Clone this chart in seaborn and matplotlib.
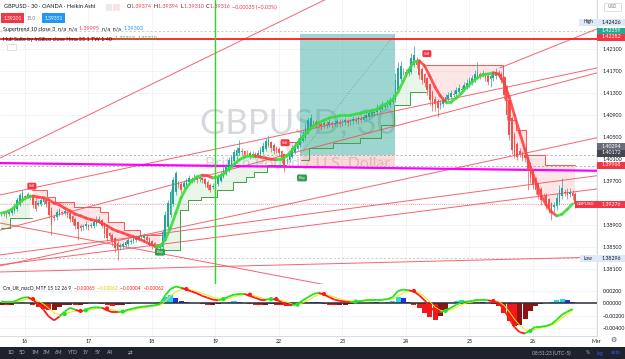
import numpy as np
import matplotlib
matplotlib.use("Agg")
import matplotlib.pyplot as plt
import seaborn as sns
from matplotlib.collections import LineCollection
from matplotlib.patches import Rectangle
from matplotlib.transforms import IdentityTransform

sns.set_theme(style="white")
plt.rcParams["font.family"] = ["Lato", "DejaVu Sans"]

# ---------------- data (hourly Heikin-Ashi bars, t = hours from start of the 16th) ----------------
hours = list(range(-9, 209))
ha_close = [
    1.3909, 1.3911, 1.3908, 1.3913, 1.3917, 1.3924, 1.3935, 1.3944, 1.3948, 1.3940,
    1.3946, 1.3939, 1.3926, 1.3919, 1.3929, 1.3935, 1.3937, 1.3928, 1.3908, 1.3889,
    1.3902, 1.3913, 1.3917, 1.3911, 1.3915, 1.3908, 1.3900, 1.3895, 1.3888, 1.3882,
    1.3884, 1.3888, 1.3891, 1.3886, 1.3889, 1.3895, 1.3899, 1.3900, 1.3888, 1.3873,
    1.3866, 1.3869, 1.3858, 1.3848, 1.3844, 1.3853, 1.3855, 1.3858, 1.3862, 1.3860,
    1.3864, 1.3866, 1.3868, 1.3866, 1.3869, 1.3862, 1.3857, 1.3851, 1.3848, 1.3844,
    1.3851, 1.3877, 1.3908, 1.3929, 1.3949, 1.3971, 1.3984, 1.3962, 1.3953, 1.3966,
    1.3971, 1.3975, 1.3973, 1.3977, 1.3971, 1.3975, 1.3971, 1.3964, 1.3957, 1.3953,
    1.3960, 1.3968, 1.3977, 1.3982, 1.3989, 1.3997, 1.4008, 1.4013, 1.4022, 1.4026,
    1.4029, 1.4022, 1.4017, 1.4020, 1.4015, 1.4019, 1.4015, 1.4020, 1.4026, 1.4033,
    1.4042, 1.4044, 1.4029, 1.4024, 1.4026, 1.4020, 1.4011, 1.3997, 1.4008, 1.4020,
    1.4029, 1.4035, 1.4042, 1.4048, 1.4053, 1.4066, 1.4080, 1.4084, 1.4077, 1.4071,
    1.4073, 1.4069, 1.4075, 1.4071, 1.4077, 1.4073, 1.4075, 1.4079, 1.4073, 1.4077,
    1.4080, 1.4075, 1.4079, 1.4082, 1.4079, 1.4084, 1.4080, 1.4086, 1.4089, 1.4093,
    1.4097, 1.4095, 1.4102, 1.4104, 1.4108, 1.4106, 1.4111, 1.4117, 1.4120, 1.4153,
    1.4175, 1.4179, 1.4168, 1.4164, 1.4171, 1.4193, 1.4199, 1.4180, 1.4162, 1.4153,
    1.4148, 1.4135, 1.4117, 1.4106, 1.4109, 1.4102, 1.4111, 1.4117, 1.4122, 1.4126,
    1.4129, 1.4128, 1.4135, 1.4139, 1.4137, 1.4144, 1.4148, 1.4153, 1.4157, 1.4164,
    1.4168, 1.4160, 1.4166, 1.4157, 1.4149, 1.4160, 1.4164, 1.4168, 1.4162, 1.4153,
    1.4126, 1.4089, 1.4053, 1.4026, 1.4017, 1.4013, 1.4019, 1.4011, 1.4011, 1.3989,
    1.3975, 1.3962, 1.3953, 1.3944, 1.3935, 1.3944, 1.3929, 1.3920, 1.3917, 1.3926,
    1.3939, 1.3953, 1.3957, 1.3948, 1.3944, 1.3949, 1.3942, 1.39276,
]
wick_up_pips = [
    3, 4, 3, 5, 4, 6, 5, 4, 5, 3,   4, 3, 3, 4, 5, 3, 4, 3, 2, 3,
    4, 5, 4, 3, 4, 3, 2, 3, 3, 2,   3, 4, 5, 3, 4, 5, 6, 5, 3, 2,
    3, 2, 3, 2, 3, 4, 4, 5, 3, 4,   4, 5, 4, 6, 5, 3, 3, 2, 3, 2,
    4, 6, 7, 6, 5, 6, 4, 3, 4, 5,   4, 5, 4, 5, 4, 3, 3, 2, 3, 4,
    5, 6, 5, 5, 6, 4, 5, 4, 6, 5,   15, 4, 3, 5, 4, 5, 4, 5, 6, 7,
    5, 9, 3, 4, 4, 3, 2, 3, 4, 5,   5, 6, 5, 6, 7, 8, 6, 7, 4, 3,
    4, 5, 4, 5, 6, 4, 5, 4, 6, 5,   4, 5, 4, 6, 5, 4, 6, 5, 4, 5,
    6, 5, 7, 5, 6, 5, 7, 6, 8, 12,  10, 8, 6, 5, 8, 10, 16, 5, 3, 3,
    3, 2, 3, 4, 5, 4, 5, 6, 5, 6,   5, 6, 5, 6, 5, 6, 7, 6, 5, 8,
    18, 5, 6, 4, 5, 6, 5, 7, 6, 4,  3, 2, 2, 4, 3, 5, 4, 3, 4, 2,
    2, 3, 2, 3, 4, 3, 4, 2, 3, 6,   8, 9, 18, 6, 7, 8, 6, 4,
]
wick_dn_pips = [
    4, 3, 5, 4, 3, 3, 4, 3, 4, 5,   3, 4, 5, 4, 3, 4, 4, 5, 6, 18,
    5, 4, 3, 4, 4, 5, 5, 6, 5, 20,  6, 5, 4, 5, 4, 5, 4, 3, 4, 7,
    6, 5, 6, 7, 18, 6, 5, 5, 4, 4,  3, 4, 3, 4, 3, 4, 5, 6, 5, 6,
    5, 3, 2, 3, 3, 4, 6, 5, 5, 4,   5, 4, 5, 4, 5, 6, 5, 6, 4, 3,
    3, 4, 3, 3, 2, 3, 4, 4, 5, 4,   4, 6, 5, 6, 5, 6, 4, 5, 4, 3,
    3, 3, 6, 6, 5, 6, 8, 11, 6, 4,  3, 3, 2, 3, 2, 3, 2, 4, 5, 6,
    5, 6, 5, 6, 5, 7, 5, 6, 5, 6,   5, 6, 5, 5, 4, 6, 5, 4, 5, 4,
    4, 5, 4, 4, 3, 4, 3, 4, 3, 3,   3, 3, 5, 6, 5, 5, 4, 6, 7, 8,
    8, 9, 10, 9, 12, 16, 8, 5, 4, 3, 4, 3, 4, 3, 4, 3, 4, 3, 4, 3,
    4, 5, 4, 6, 5, 15, 6, 5, 4, 6,  7, 8, 9, 8, 6, 5, 6, 5, 7, 36,
    10, 8, 7, 8, 9, 7, 10, 8, 18, 9, 7, 6, 5, 6, 7, 6, 8, 7,
]

# Supertrend (10, 3) steps: start hour, level, direction (+1 up / -1 down)
st_start = [-9.5, -5.0, 2.6, 8.3, 11.3, 18.9, 28.3, 32.0, 37.8, 43.5, 52.0, 58.6, 61.2, 66.1,
            72.6, 78.6, 83.1, 86.2, 91.8, 98.3, 104.7, 107.7, 116.4, 126.7, 134.2, 139.1, 145.5,
            151.9, 180.5, 181.4, 183.3, 185.6, 189.7, 196.6]
st_level = [1.3884, 1.3902, 1.3953, 1.3940, 1.3931, 1.3922, 1.3913, 1.3895, 1.3880, 1.3871,
            1.3844, 1.3917, 1.3935, 1.3940, 1.3953, 1.3967, 1.3976, 1.3985, 1.3999, 1.4040,
            1.4008, 1.4029, 1.4038, 1.4047, 1.4071, 1.4108, 1.4131, 1.4180, 1.4158, 1.4117,
            1.4080, 1.4062, 1.4017, 1.3999]
st_dir = [1, 1, -1, -1, -1, -1, -1, -1, -1, -1, 1, 1, 1, 1, 1, 1, 1, 1, 1, -1,
          1, 1, 1, 1, 1, 1, 1, -1, -1, -1, -1, -1, -1, -1]
sell_t = [2.6, 98.3, 151.9]
sell_p = [1.3960, 1.4039, 1.4201]
buy_t = [51.0, 104.7]
buy_p = [1.3840, 1.3975]

# two-hourly indicator samples
ind_hours = list(range(-9, 208, 2))
hull = [
    1.3911, 1.3913, 1.3918, 1.3926, 1.3935, 1.3940, 1.3942, 1.3940, 1.3939, 1.3935,
    1.3929, 1.3926, 1.3920, 1.3915, 1.3909, 1.3906, 1.3902, 1.3899, 1.3897, 1.3893,
    1.3888, 1.3882, 1.3878, 1.3875, 1.3871, 1.3868, 1.3864, 1.3860, 1.3855, 1.3851,
    1.3851, 1.3862, 1.3884, 1.3911, 1.3939, 1.3957, 1.3969, 1.3977, 1.3980, 1.3979,
    1.3975, 1.3977, 1.3982, 1.3991, 1.3999, 1.4008, 1.4013, 1.4015, 1.4015, 1.4013,
    1.4011, 1.4009, 1.4008, 1.4009, 1.4015, 1.4026, 1.4038, 1.4049, 1.4060, 1.4069,
    1.4075, 1.4080, 1.4084, 1.4086, 1.4088, 1.4089, 1.4089, 1.4091, 1.4093, 1.4095,
    1.4097, 1.4100, 1.4106, 1.4111, 1.4117, 1.4131, 1.4151, 1.4171, 1.4186, 1.4188,
    1.4179, 1.4160, 1.4140, 1.4124, 1.4113, 1.4113, 1.4120, 1.4129, 1.4140, 1.4149,
    1.4157, 1.4162, 1.4164, 1.4166, 1.4164, 1.4149, 1.4122, 1.4089, 1.4057, 1.4026,
    1.3995, 1.3968, 1.3944, 1.3926, 1.3913, 1.3906, 1.3909, 1.3918, 1.3928,
]
macd = [
    0.0003, 0.0002, 0.0002, 0.0005, 0.0009, 0.0010, 0.0006, -0.0001, -0.0010, -0.0021,
    -0.0027, -0.0021, -0.0013, -0.0007, -0.0010, -0.0013, -0.0010, -0.0007, -0.0006, -0.0007,
    -0.0011, -0.0014, -0.0014, -0.0013, -0.0010, -0.0008, -0.0006, -0.0005, -0.0004, -0.0003,
    -0.0001, 0.0013, 0.0023, 0.0027, 0.0025, 0.0022, 0.0019, 0.0016, 0.0012, 0.0009,
    0.0006, 0.0005, 0.0007, 0.0011, 0.0014, 0.0015, 0.0015, 0.0012, 0.0009, 0.0006,
    0.0006, 0.0007, 0.0006, 0.0002, -0.0002, -0.0003, -0.0001, 0.0005, 0.0010, 0.0015,
    0.0017, 0.0014, 0.0010, 0.0006, 0.0004, 0.0003, 0.0003, 0.0003, 0.0004, 0.0005,
    0.0005, 0.0006, 0.0006, 0.0007, 0.0010, 0.0020, 0.0022, 0.0021, 0.0019, 0.0013,
    0.0005, -0.0005, -0.0013, -0.0014, -0.0011, -0.0007, -0.0002, 0.0002, 0.0003, 0.0004,
    0.0006, 0.0006, 0.0005, 0.0003, 0.0001, -0.0010, -0.0024, -0.0038, -0.0046, -0.0048,
    -0.0043, -0.0037, -0.0037, -0.0036, -0.0033, -0.0026, -0.0018, -0.0013, -0.0009,
]
signal = [
    0.0002, 0.0002, 0.0002, 0.0003, 0.0005, 0.0007, 0.0007, 0.0004, -0.0001, -0.0008,
    -0.0015, -0.0018, -0.0017, -0.0014, -0.0012, -0.0012, -0.0011, -0.0010, -0.0008, -0.0007,
    -0.0008, -0.0010, -0.0012, -0.0013, -0.0012, -0.0010, -0.0008, -0.0007, -0.0005, -0.0004,
    -0.0003, 0.0003, 0.0012, 0.0019, 0.0022, 0.0023, 0.0021, 0.0019, 0.0016, 0.0013,
    0.0010, 0.0008, 0.0007, 0.0008, 0.0011, 0.0013, 0.0014, 0.0014, 0.0012, 0.0009,
    0.0007, 0.0007, 0.0007, 0.0005, 0.0002, -0.0001, -0.0002, 0.0001, 0.0005, 0.0010,
    0.0014, 0.0015, 0.0013, 0.0010, 0.0007, 0.0005, 0.0004, 0.0003, 0.0003, 0.0004,
    0.0004, 0.0005, 0.0005, 0.0006, 0.0007, 0.0012, 0.0017, 0.0020, 0.0020, 0.0017,
    0.0011, 0.0003, -0.0006, -0.0011, -0.0012, -0.0010, -0.0006, -0.0002, 0.0001, 0.0002,
    0.0004, 0.0005, 0.0005, 0.0004, 0.0003, -0.0003, -0.0013, -0.0025, -0.0035, -0.0042,
    -0.0044, -0.0041, -0.0039, -0.0037, -0.0035, -0.0030, -0.0023, -0.0017, -0.0011,
]
hist = [
    -0.0002, -0.0003, -0.0002, 0.0001, 0.0002, 0.0001, -0.0003, -0.0006, -0.0009, -0.0011,
    -0.0010, -0.0006, -0.0003, -0.0002, -0.0003, -0.0002, -0.0001, 0.0001, 0.0001, -0.0001,
    -0.0003, -0.0004, -0.0003, -0.0002, -0.0001, 0.0001, 0.0001, 0.0001, 0.0001, 0.0001,
    0.0003, 0.0010, 0.0013, 0.0009, 0.0004, 0.0002, 0.0001, 0.0001, -0.0001, -0.0002,
    -0.0002, -0.0001, 0.0001, 0.0003, 0.0004, 0.0003, 0.0001, -0.0001, -0.0002, -0.0003,
    -0.0002, -0.0001, -0.0002, -0.0003, -0.0004, -0.0002, 0.0001, 0.0002, 0.0003, 0.0003,
    0.0002, -0.0001, -0.0002, -0.0003, -0.0003, -0.0002, -0.0001, 0.0001, 0.0001, 0.0001,
    0.0002, 0.0002, 0.0001, 0.0002, 0.0004, 0.0010, 0.0008, 0.0003, -0.0002, -0.0008,
    -0.0015, -0.0022, -0.0026, -0.0020, -0.0010, 0.0001, 0.0004, 0.0005, 0.0003, 0.0002,
    0.0003, 0.0002, 0.0001, -0.0001, -0.0004, -0.0015, -0.0028, -0.0036, -0.0034, -0.0025,
    -0.0012, -0.0004, -0.0001, 0.0001, 0.0002, 0.0005, 0.0007, 0.0006, 0.0003,
]

# drawings: trend lines (hour, price) pairs
tl_t0 = [-9.45, -9.45, -9.45, -9.45, -9.45, -9.45, -9.45, 179.5, -9.45]
tl_p0 = [1.4011, 1.3944, 1.3880, 1.3815, 1.3835, 1.3817, 1.3804, 1.4175, 1.3893]
tl_t1 = [113.4, 216.2, 216.2, 216.2, 216.2, 216.2, 216.2, 216.2, 115.3]
tl_p1 = [1.4299, 1.4175, 1.4166, 1.4048, 1.3979, 1.3955, 1.3831, 1.4246, 1.3779]
magenta_p = [1.4002, 1.3988]
red_level = 1.42282
vline_t = 71.8
pos_t = [103.9, 139.8]
pos_entry, pos_target, pos_stop = 1.40172, 1.42359, 1.39968
last_price, high_price, low_price = 1.39276, 1.42426, 1.38296

day_ticks = [0, 24, 48, 72, 96, 120, 144, 168, 192, 216]
day_labels = ["16", "17", "18", "19", "22", "23", "24", "25", "26", "Mar"]
price_ticks = [1.421, 1.417, 1.413, 1.409, 1.405, 1.401, 1.397, 1.393, 1.389, 1.385, 1.381]
macd_ticks = [0.002, 0.0, -0.002, -0.004]
macd_tick_labels = ["0.00200", "0.00000", "\u22120.00200", "\u22120.00400"]

# ---------------- figure ----------------
W, H = 625, 359
ID = IdentityTransform()
T0, T1 = -9.45, 216.2
fig = plt.figure(figsize=(6.25, 3.59), dpi=100)
fig.patch.set_facecolor("white")
ax = fig.add_axes([0, (H - 284) / H, 597 / W, 284 / H])
axm = fig.add_axes([0, (H - 336) / H, 597 / W, 52 / H])

for a in (ax, axm):
    a.set_facecolor("white")
    for s in ("left", "top"):
        a.spines[s].set_visible(False)
    for s in ("right", "bottom"):
        a.spines[s].set_color("#d1d4dc")
        a.spines[s].set_linewidth(0.6)
    a.yaxis.tick_right()
    a.tick_params(axis="y", length=0, pad=4, labelsize=3.8, labelcolor="#131722")
    a.tick_params(axis="x", length=0, pad=2, labelsize=3.8, labelcolor="#131722")
    a.set_xlim(T0, T1)
    a.set_xticks(day_ticks)
    a.grid(True, color="#f0f3fa", lw=0.6, zorder=0)
    a.set_axisbelow(True)

ax.set_ylim(1.37821, 1.42985)
ax.set_yticks(price_ticks)
ax.set_yticklabels([f"{v:.5f}" for v in price_ticks])
ax.set_xticklabels([])

# watermark
ax.text(103.2, 1.40740, "GBPUSD, 30", ha="center", va="center", fontsize=25, color="#d6d8dd", zorder=1)
ax.text(103.2, 1.39999, "British Pound / U.S. Dollar", ha="center", va="center", fontsize=11.5,
        color="#d6d8dd", zorder=1)

# position tool
ax.add_patch(Rectangle((pos_t[0], pos_entry), pos_t[1] - pos_t[0], pos_target - pos_entry,
                       fc="#26a69a", alpha=0.45, lw=0, zorder=1.5))
ax.add_patch(Rectangle((pos_t[0], pos_stop), pos_t[1] - pos_t[0], pos_entry - pos_stop,
                       fc="#ef5350", alpha=0.22, lw=0, zorder=1.5))
ax.plot(pos_t, [pos_entry, pos_target], color="#8a8d96", lw=0.6, ls=(0, (1, 2)), zorder=2)

# price lines
ax.axhline(pos_entry, color="#9598a1", lw=0.5, ls=(0, (3, 3)), zorder=2)
ax.axhline(pos_stop, color="#9598a1", lw=0.5, ls=(0, (3, 3)), zorder=2)
ax.axhline(high_price, color="#b2b5be", lw=0.5, ls=(0, (3, 3)), zorder=2)
ax.axhline(low_price, color="#b2b5be", lw=0.5, ls=(0, (3, 3)), zorder=2)
ax.axhline(last_price, color="#ef5350", lw=0.5, ls=(0, (1, 2)), zorder=2)

# trend lines
for a0, b0, a1, b1 in zip(tl_t0, tl_p0, tl_t1, tl_p1):
    ax.plot([a0, a1], [b0, b1], color="#f7525f", lw=0.7, alpha=0.9, zorder=3)
ax.plot([T0, T1], magenta_p, color="#ff00ff", lw=1.6, zorder=3.5)
ax.axhline(red_level, color="#ff1a1a", lw=1.3, zorder=3.5)
ax.axvline(vline_t, color="#1fe01f", lw=1.0, zorder=6)

# Heikin Ashi candles
t = np.array(hours, dtype=float)
close = np.array(ha_close)
opn = np.empty_like(close)
opn[0] = close[0]
for i in range(1, len(close)):
    opn[i] = (opn[i - 1] + close[i - 1]) / 2
hi = np.maximum(opn, close) + np.array(wick_up_pips) * 1e-4
lo = np.minimum(opn, close) - np.array(wick_dn_pips) * 1e-4
col = np.where(close >= opn, "#26a69a", "#ef5350")

# supertrend
idx = np.searchsorted(np.array(st_start), t, side="right") - 1
lvl = np.array(st_level)[idx]
dr = np.array(st_dir)[idx]
mid = (opn + close) / 2
ax.fill_between(t, lvl, mid, where=dr > 0, step="mid", color="#4caf50", alpha=0.12, lw=0, zorder=2)
ax.fill_between(t, lvl, mid, where=dr < 0, step="mid", color="#ff5252", alpha=0.14, lw=0, zorder=2)
ax.plot(t, np.where(dr > 0, lvl, np.nan), drawstyle="steps-mid", color="#43a047", lw=0.7, zorder=3)
ax.plot(t, np.where(dr < 0, lvl, np.nan), drawstyle="steps-mid", color="#ff5252", lw=0.7, zorder=3)

ax.vlines(t, lo, hi, colors=col, lw=0.5, zorder=4)
ax.bar(t, np.abs(close - opn) + 2e-5, bottom=np.minimum(opn, close), width=0.62, color=col, lw=0, zorder=5)

# hull suite
th = np.array(ind_hours, dtype=float)
hv = np.array(hull)
segs = [[(th[i - 1], hv[i - 1]), (th[i], hv[i])] for i in range(1, len(hv))]
hcol = ["#35de35" if hv[i] >= hv[i - 1] else "#ff4040" for i in range(1, len(hv))]
ax.add_collection(LineCollection(segs, colors=hcol, linewidths=2.0, alpha=0.88, zorder=6, capstyle="round"))

# signals
for tt, pp in zip(sell_t, sell_p):
    ax.text(tt, pp, "Sell", fontsize=3.0, color="white", ha="center", va="center", zorder=8,
            bbox=dict(boxstyle="round,pad=0.35", fc="#f23645", ec="none"))
for tt, pp in zip(buy_t, buy_p):
    ax.text(tt, pp, "Buy", fontsize=3.0, color="white", ha="center", va="center", zorder=8,
            bbox=dict(boxstyle="round,pad=0.35", fc="#2e9e4f", ec="none"))

# ---------------- MACD pane ----------------
axm.set_ylim(-0.0052, 0.0031)
axm.set_yticks(macd_ticks)
axm.set_yticklabels(macd_tick_labels)
axm.set_xticklabels(day_labels)
mv = np.array(macd)
sv = np.array(signal)
hv2 = np.array(hist)
hcols = []
for i, h in enumerate(hv2):
    prev = hv2[i - 1] if i > 0 else h
    if h >= 0:
        hcols.append("#26d7e8" if h > prev else "#2030e8")
    else:
        hcols.append("#f01818" if h < prev else "#8c1414")
axm.bar(th, hv2, width=1.9, color=hcols, lw=0, zorder=2)
axm.axhline(0, color="#2a2e39", lw=1.1, zorder=3)
sns.lineplot(x=th, y=sv, ax=axm, color="#f2e600", lw=0.7, zorder=4)
up = mv >= sv
msegs = [[(th[i - 1], mv[i - 1]), (th[i], mv[i])] for i in range(1, len(mv))]
mcol = ["#1fe51f" if up[i] else "#ff1a1a" for i in range(1, len(mv))]
axm.add_collection(LineCollection(msegs, colors=mcol, linewidths=1.3, zorder=5))
cross = [i for i in range(1, len(mv)) if up[i] != up[i - 1]]
cg = [i for i in cross if up[i]]
cr = [i for i in cross if not up[i]]
sns.scatterplot(x=th[cg], y=sv[cg], ax=axm, color="#1fe51f", s=9, edgecolor="none", zorder=6)
sns.scatterplot(x=th[cr], y=sv[cr], ax=axm, color="#ff1a1a", s=9, edgecolor="none", zorder=6)
axm.set_xlabel("")
axm.set_ylabel("")
axm.set_xlim(T0, T1)

# ---------------- overlay texts ----------------
renderer = fig.canvas.get_renderer()


def seq(x, y, parts, size, gap=0.0):
    for s, c in parts:
        tx = fig.text(x, H - y, s, transform=ID, fontsize=size, color=c, va="center", ha="left", zorder=25)
        x += tx.get_window_extent(renderer).width + gap
    return x


def pbox(x0, x1, yc, fc, text, tc="white", size=3.8, ec="none", h=7):
    fig.add_artist(Rectangle((x0, H - yc - h / 2), x1 - x0, h, transform=ID, fc=fc, ec=ec, lw=0.5, zorder=30))
    fig.text((x0 + x1) / 2, H - yc, text, transform=ID, ha="center", va="center", fontsize=size,
             color=tc, zorder=31)


DK = "#131722"
RD = "#f23645"
seq(4, 7, [("GBPUSD \u00b7 30 \u00b7 OANDA \u00b7 Heikin Ashi", DK)], 4.1)
fig.add_artist(Rectangle((106, H - 11), 6, 7, transform=ID, fc="#e9eaee", ec="none", zorder=24))
fig.add_artist(Rectangle((113, H - 11), 7, 7, transform=ID, fc="#fbe2e5", ec="none", zorder=24))
seq(127, 7, [("O", DK), ("1.39374  ", RD), ("H", DK), ("1.39394  ", RD), ("L", DK), ("1.39310  ", RD),
             ("C", DK), ("1.39316  ", RD), ("\u22120.00035 (\u22120.03%)", RD)], 3.9)
pbox(1, 24, 18, "#f23645", "1.39201", size=3.6, h=10)
fig.text(27, H - 18, "15.0", transform=ID, fontsize=3.3, color="#787b86", va="center", zorder=25)
pbox(42, 65, 18, "#2196f3", "1.39351", size=3.6, h=10)
seq(3, 29, [("Supertrend 10 close 3  ", DK), ("n/a  n/a  ", DK), ("1.39995  ", RD), ("n/a  n/a  ", DK),
            ("1.39303", "#2196f3")], 3.9)
seq(3, 39, [("Hull Suite by InSilico close Hma 55 1 TW 1 40  ", DK), ("1.39343  ", "#4caf50"),
            ("1.39319", "#4caf50")], 3.9)
fig.add_artist(Rectangle((7, H - 50), 9, 6, transform=ID, fc="white", ec="#d1d4dc", lw=0.5, zorder=24))
seq(3, 288, [("Cm_Ult_macD_MTF 15 12 26 9  ", DK), ("\u22120.00065  ", "#ff1a1a"),
             ("\u22120.00062  ", "#d8c800"), ("\u22120.00004  ", "#ff1a1a"), ("\u22120.00062", "#ff1a1a")], 3.5)

# right scale labels
LB = "#dde9f7"
pbox(579, 597, 22, LB, "High", tc=DK, size=3.4)
pbox(597, 625, 22, LB, "1.42426", tc=DK)
pbox(597, 625, 31, "#22ab94", "1.42359")
pbox(597, 625, 37, RD, "1.42282")
pbox(597, 625, 146, "#6a6d78", "1.40294")
pbox(597, 625, 153, "#434651", "1.40172")
pbox(597, 625, 165, RD, "1.39968")
pbox(575, 597, 204, RD, "GBPUSD", size=3.2)
pbox(597, 625, 204, RD, "1.39276")
pbox(580, 597, 258, LB, "Low", tc=DK, size=3.4)
pbox(597, 625, 258, LB, "1.38296", tc=DK)
pbox(604, 621, 7, "white", "USD", tc="#787b86", size=3.3, ec="#d1d4dc", h=8)
fig.text(613, H - 340, "\u2699", transform=ID, fontsize=5, color="#50535e", ha="center", va="center",
         family=["DejaVu Sans"], zorder=25)

# bottom toolbar
fig.add_artist(Rectangle((0, 0), W, 12, transform=ID, fc="#1e222d", ec="none", zorder=20))
for xx, s in zip([11, 22, 35, 47, 59, 73, 86, 98, 110],
                 ["1D", "5D", "1M", "3M", "6M", "YTD", "1Y", "5Y", "All"]):
    fig.text(xx, 6, s, transform=ID, fontsize=3.6, color="#b2b5be", ha="center", va="center", zorder=21)
fig.text(130, 6, "\u21c4", transform=ID, fontsize=4, color="#b2b5be", ha="center", va="center",
         family=["DejaVu Sans"], zorder=21)
fig.text(551, 6, "08:51:23 (UTC-5)", transform=ID, fontsize=3.6, color="#b2b5be", ha="center",
         va="center", zorder=21)
fig.text(588, 6, "%", transform=ID, fontsize=3.6, color="#b2b5be", ha="center", va="center", zorder=21)
fig.text(600, 6, "log", transform=ID, fontsize=3.6, color="#2962ff", ha="center", va="center", zorder=21)
fig.text(616, 6, "auto", transform=ID, fontsize=3.6, color="#2962ff", ha="center", va="center", zorder=21)

fig.savefig("out.png", dpi=100)
